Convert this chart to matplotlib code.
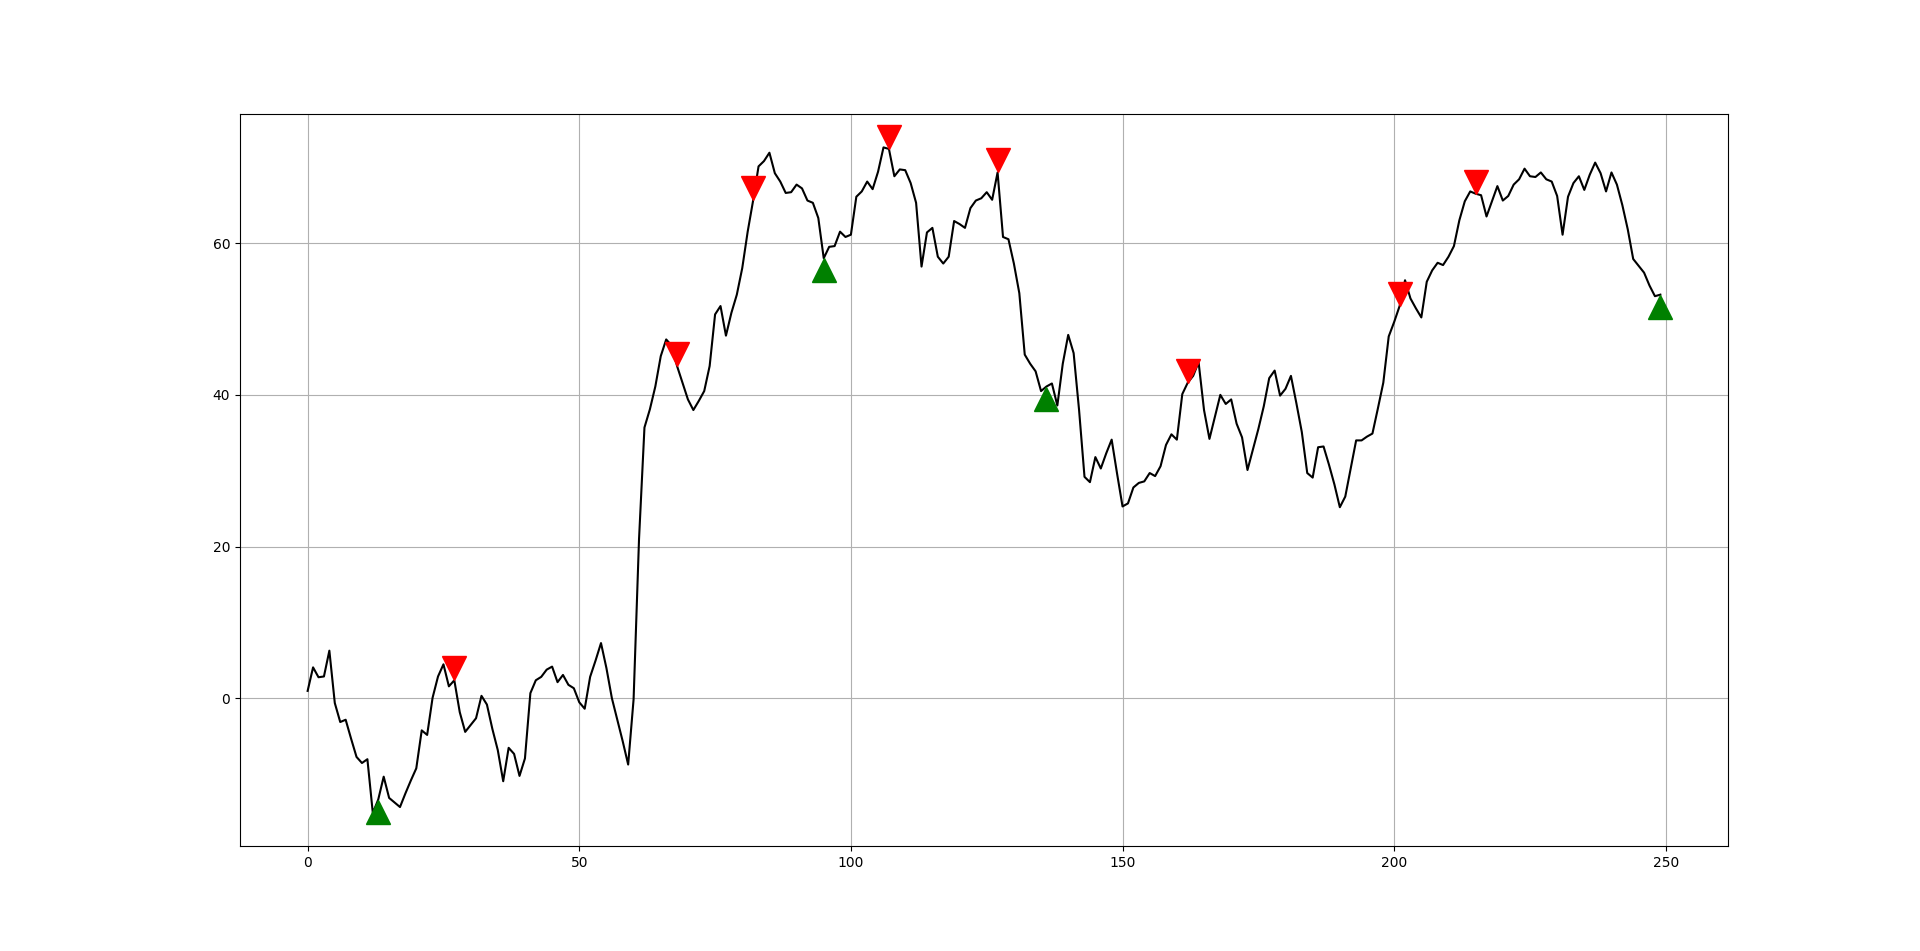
import matplotlib
matplotlib.use("Agg")
import matplotlib.pyplot as plt
import numpy as np

# price series (one value per step, 0..249)
price = [
    1.0, 4.1, 2.8, 2.9, 6.3, -0.6, -3.1, -2.8, -5.3, -7.7,
    -8.5, -8.0, -15.1, -13.3, -10.3, -13.1, -13.7, -14.3, -12.5, -10.8,
    -9.2, -4.2, -4.8, 0.1, 2.9, 4.5, 1.6, 2.4, -1.8, -4.4,
    -3.5, -2.6, 0.35, -0.8, -4.0, -6.8, -10.9, -6.5, -7.3, -10.2,
    -7.9, 0.7, 2.4, 2.85, 3.8, 4.2, 2.15, 3.1, 1.8, 1.35,
    -0.5, -1.35, 2.85, 5.0, 7.3, 4.0, 0.05, -2.8, -5.65, -8.7,
    -0.1, 21.0, 35.7, 38.1, 41.1, 45.1, 47.3, 46.5, 43.8, 41.6,
    39.4, 38.0, 39.2, 40.5, 43.8, 50.6, 51.7, 47.8, 50.8, 53.2,
    56.7, 61.5, 65.6, 70.1, 70.8, 71.9, 69.2, 68.1, 66.6, 66.7,
    67.7, 67.2, 65.6, 65.3, 63.3, 58.0, 59.5, 59.6, 61.5, 60.8,
    61.1, 66.1, 66.8, 68.1, 67.1, 69.4, 72.6, 72.4, 68.8, 69.7,
    69.6, 67.9, 65.3, 56.9, 61.4, 62.0, 58.2, 57.3, 58.2, 62.9,
    62.5, 62.0, 64.6, 65.6, 65.9, 66.7, 65.7, 69.3, 60.8, 60.5,
    57.3, 53.4, 45.3, 44.1, 43.1, 40.5, 41.1, 41.5, 38.6, 44.1,
    47.9, 45.5, 38.0, 29.2, 28.5, 31.8, 30.3, 32.3, 34.1, 29.6,
    25.3, 25.7, 27.8, 28.4, 28.6, 29.7, 29.3, 30.6, 33.4, 34.8,
    34.1, 40.1, 41.6, 42.5, 44.3, 38.0, 34.2, 37.1, 40.0, 38.8,
    39.4, 36.2, 34.4, 30.1, 32.8, 35.5, 38.5, 42.2, 43.2, 39.9,
    40.8, 42.5, 38.9, 35.1, 29.7, 29.1, 33.1, 33.2, 30.8, 28.2,
    25.2, 26.6, 30.3, 34.0, 34.0, 34.5, 34.9, 38.2, 41.6, 47.7,
    49.6, 51.7, 55.1, 52.7, 51.4, 50.2, 54.9, 56.4, 57.4, 57.1,
    58.2, 59.6, 63.0, 65.5, 66.8, 66.5, 66.3, 63.5, 65.5, 67.5,
    65.6, 66.2, 67.7, 68.4, 69.8, 68.8, 68.7, 69.3, 68.4, 68.1,
    66.2, 61.1, 66.1, 67.9, 68.8, 67.0, 69.0, 70.6, 69.2, 66.8,
    69.3, 67.7, 65.0, 61.8, 57.9, 57.0, 56.1, 54.4, 53.0, 53.2,
]

# signal positions
buy_idx = [13, 95, 136, 249]
sell_idx = [27, 68, 82, 107, 127, 162, 201, 215]
offset = 1.6

price = np.array(price)
x = np.arange(len(price))

fig = plt.figure(figsize=(19.2, 9.51), dpi=100)
ax = fig.add_subplot(111)
ax.plot(x, price, color="black", linewidth=1.5)
ylim = ax.get_ylim()

# markers sit just above/below the price, limits follow the line only
ax.plot(buy_idx, price[buy_idx] - offset, "^", color="green", markersize=17)
ax.plot(sell_idx, price[sell_idx] + offset, "v", color="red", markersize=17)
ax.set_ylim(ylim)

ax.grid(True)

fig.savefig("out.png", dpi=100)
